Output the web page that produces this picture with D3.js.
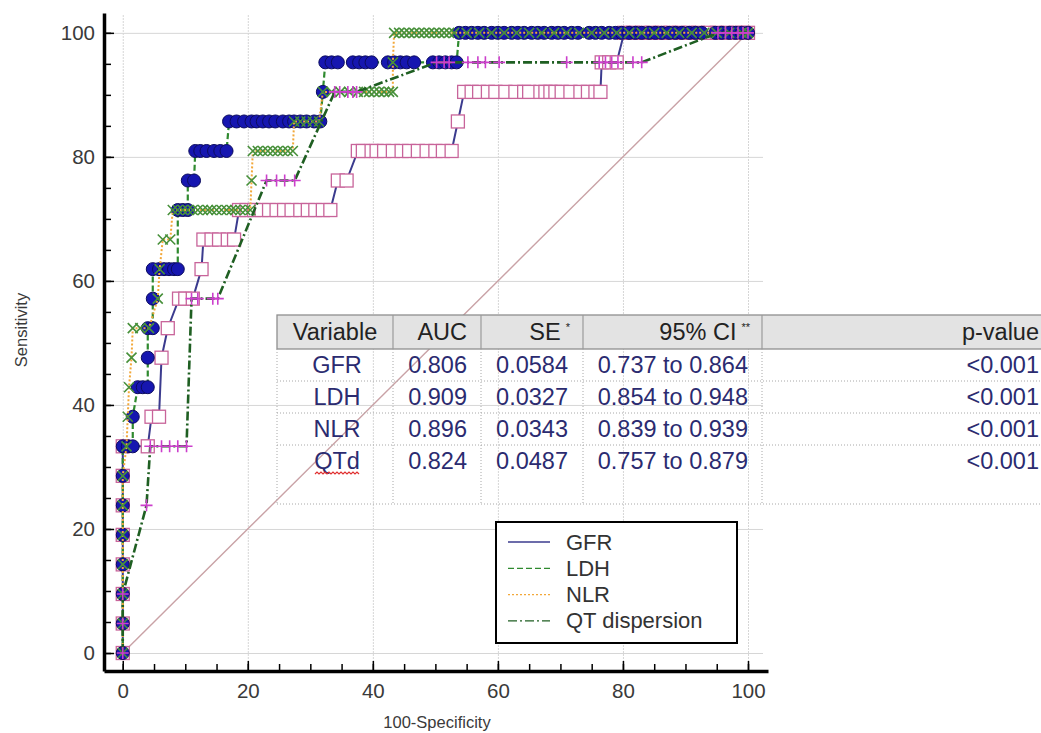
<!DOCTYPE html>
<html>
<head>
<meta charset="utf-8">
<script src="https://d3js.org/d3.v7.min.js"></script>
<style>
  body { margin: 0; background: #fff; overflow: hidden; }
  svg { display: block; font-family: Arial, "Liberation Sans", sans-serif; }
</style>
</head>
<body>
<div id="roc"></div>
<script>
// ROC points: each row is [sensitivity, 100-specificity values at that sensitivity...]
var gfrRows = [
  [0, 0], [4.76, 0], [9.52, 0], [14.29, 0], [19.05, 0], [23.81, 0], [28.57, 0],
  [33.33, 0, 4.0],
  [38.10, 4.6, 5.8],
  [47.62, 6.2],
  [52.38, 7.2],
  [57.14, 9.0, 10.0, 11.2],
  [61.90, 12.6],
  [66.67, 12.9, 14.2, 15.4, 16.8, 17.8],
  [71.43, 18.6, 19.8, 21.0, 22.2, 23.4, 24.6, 25.8, 27.0, 28.4, 29.6, 30.8, 32.0, 33.2],
  [76.19, 34.4, 35.8],
  [80.95, 37.6, 38.4, 39.8, 40.6, 41.8, 43.2, 44.6, 45.8, 47.2, 48.6, 50.0, 51.2, 52.6],
  [85.71, 53.6],
  [90.48, 54.6, 55.8, 57.0, 58.4, 59.6, 61.2, 62.8, 64.2, 65.0, 66.8, 67.6, 68.4, 69.2, 70.2, 71.6, 73.2, 74.4, 75.6, 76.4],
  [95.24, 76.6, 77.8, 79.0],
  [100, 80.2, 81.6, 83.0, 84.6, 86.0, 87.6, 89.0, 90.6, 92.0, 93.6, 95.0, 96.6, 98.0, 99.2, 100]
];

var ldhRows = [
  [0, 0], [4.76, 0], [9.52, 0], [14.29, 0], [19.05, 0], [23.81, 0], [28.57, 0],
  [33.33, 0, 0.8, 1.6],
  [38.10, 1.6],
  [42.86, 2.4, 3.2, 4.0],
  [47.62, 4.0],
  [52.38, 4.0, 4.8],
  [57.14, 4.8],
  [61.90, 4.8, 5.8, 6.6, 7.4, 8.2, 8.8],
  [71.43, 8.8, 9.6, 10.4],
  [76.19, 10.4, 11.4],
  [80.95, 11.6, 12.4, 13.4, 14.6, 15.6, 16.6],
  [85.71, 17.0, 18.2, 19.4, 20.6, 21.4, 22.4, 23.4, 24.4, 25.6, 26.6, 27.4, 28.4, 29.4, 30.6, 31.6],
  [90.48, 32.0],
  [95.24, 32.4, 33.4, 34.4, 36.8, 37.8, 38.8, 39.8, 42.4, 43.4, 44.4, 45.4, 46.6, 49.6, 50.6, 51.6, 52.6, 53.4],
  [100, 53.8, 54.8, 55.8, 56.8, 57.8, 59.0, 60.0, 61.0, 62.2, 63.2, 64.2, 65.4, 66.4, 67.4, 68.6, 69.6, 70.6,
    71.8, 72.8, 74.6, 75.6, 76.6, 77.8, 78.8, 79.8, 81.0, 82.0, 83.0, 84.2, 85.2, 86.2, 87.4, 88.4, 89.4,
    90.6, 91.6, 92.6, 94.8, 95.8, 97.0, 98.0, 99.0, 100]
];

var nlrRows = [
  [0, 0], [4.76, 0], [9.52, 0], [14.29, 0], [19.05, 0], [23.81, 0], [28.57, 0],
  [33.33, 0.6],
  [38.10, 0.8],
  [42.86, 1.0],
  [47.62, 1.4],
  [52.38, 1.6, 2.8, 4.2],
  [57.14, 5.6],
  [61.90, 5.9],
  [66.67, 6.4, 7.6],
  [71.43, 8.0, 8.8, 9.6, 10.4, 11.2, 12.0, 12.8, 13.6, 14.2, 15.0, 15.8, 16.6, 17.4, 18.0, 18.8, 19.6, 20.4],
  [76.19, 20.6],
  [80.95, 20.8, 21.6, 22.4, 23.2, 24.0, 24.8, 25.6, 26.4, 27.2],
  [85.71, 27.4, 28.4, 29.4, 30.4, 31.4],
  [90.48, 32.0, 33.4, 34.8, 36.2, 37.6, 38.6, 39.4, 40.2, 41.0, 41.8, 42.6, 43.2],
  [95.24, 43.2],
  [100, 43.4, 44.2, 45.0, 45.8, 46.6, 47.4, 48.2, 49.0, 49.8, 50.6, 51.4, 52.2, 53.0, 55.0, 57.0, 59.0,
    61.0, 63.0, 65.0, 67.0, 69.0, 71.0, 73.0, 75.0, 77.0, 79.0, 81.0, 83.0, 85.0, 87.0, 89.0, 91.0,
    93.0, 95.0, 97.0, 99.0, 100]
];

var qtRows = [
  [0, 0], [4.76, 0], [9.52, 0],
  [23.81, 3.8],
  [33.33, 4.4, 6.2, 7.5, 8.8, 10.2],
  [57.14, 11.0, 12.0, 14.4, 15.2],
  [76.19, 23.0, 24.6, 25.9, 27.5],
  [90.48, 33.9, 34.7, 36.0, 36.8, 37.4],
  [95.24, 50.2, 51.4, 52.2, 55.2, 56.8, 58.0, 60.2, 71.0, 76.2, 77.2, 78.2, 79.2, 81.6, 83.0],
  [100, 95.2, 96.4, 97.4, 98.4, 99.2, 100]
];

var seriesNames = ["GFR", "LDH", "NLR", "QT dispersion"];

// result table
var tableHeader = ["Variable", "AUC", "SE", "95% CI", "p-value"];
var tableVariable = ["GFR", "LDH", "NLR", "QTd"];
var tableAUC = ["0.806", "0.909", "0.896", "0.824"];
var tableSE = ["0.0584", "0.0327", "0.0343", "0.0487"];
var tableCI = ["0.737 to 0.864", "0.854 to 0.948", "0.839 to 0.939", "0.757 to 0.879"];
var tableP = ["<0.001", "<0.001", "<0.001", "<0.001"];

var majorTicks = [0, 20, 40, 60, 80, 100];
var minorTicks = [0, 5, 10, 15, 20, 25, 30, 35, 40, 45, 50, 55, 60, 65, 70, 75, 80, 85, 90, 95, 100];

function toPoints(rows) {
  var pts = [];
  rows.forEach(function(r) {
    for (var i = 1; i < r.length; i++) pts.push([r[i], r[0]]);
  });
  return pts;
}

function init() {
  var w = 1041;
  var h = 733;

  var svg = d3.select("#roc")
    .append("svg")
    .attr("width", w)
    .attr("height", h);

  // scales (axis frame runs a little past 0 and 100)
  var x = d3.scaleLinear().domain([-3, 103.2]).range([104, 768]);
  var y = d3.scaleLinear().domain([-2.9, 103.2]).range([671, 13]);

  // grid
  svg.append("g")
    .attr("transform", "translate(0,671)")
    .call(d3.axisBottom(x).tickValues(majorTicks).tickSize(-656).tickFormat(""))
    .call(function(g) { g.select(".domain").remove(); })
    .selectAll("line")
    .attr("stroke", "#d6d6d6")
    .attr("stroke-dasharray", "2,1");

  svg.append("g")
    .attr("transform", "translate(104,0)")
    .call(d3.axisLeft(y).tickValues(majorTicks).tickSize(-659).tickFormat(""))
    .call(function(g) { g.select(".domain").remove(); })
    .selectAll("line")
    .attr("stroke", "#d6d6d6");

  // reference diagonal
  svg.append("line")
    .attr("x1", x(0)).attr("y1", y(0))
    .attr("x2", x(100)).attr("y2", y(100))
    .attr("stroke", "#c9a2a6")
    .attr("stroke-width", 1.4);

  var line = d3.line()
    .x(function(d) { return x(d[0]); })
    .y(function(d) { return y(d[1]); });

  var series = [
    { rows: gfrRows, color: "#3b3b8e", dash: null, width: 2, marker: "square" },
    { rows: ldhRows, color: "#2f8a2f", dash: "6,3", width: 2.2, marker: "circle" },
    { rows: nlrRows, color: "#f2a83a", dash: "2,2", width: 2, marker: "x" },
    { rows: qtRows, color: "#1f5f22", dash: "9,3,2,3", width: 2.6, marker: "plus" }
  ];

  series.forEach(function(s) {
    var pts = toPoints(s.rows);
    var g = svg.append("g");

    g.append("path")
      .datum(pts)
      .attr("fill", "none")
      .attr("stroke", s.color)
      .attr("stroke-width", s.width)
      .attr("stroke-dasharray", s.dash)
      .attr("d", line);

    var m = g.selectAll(".m")
      .data(pts)
      .enter();

    if (s.marker == "square") {
      m.append("rect")
        .attr("x", function(d) { return x(d[0]) - 6.5; })
        .attr("y", function(d) { return y(d[1]) - 6.5; })
        .attr("width", 13)
        .attr("height", 13)
        .attr("fill", "#fff")
        .attr("stroke", "#c8649a")
        .attr("stroke-width", 1.3);
    } else if (s.marker == "circle") {
      m.append("circle")
        .attr("cx", function(d) { return x(d[0]); })
        .attr("cy", function(d) { return y(d[1]); })
        .attr("r", 6.5)
        .attr("fill", "#1616b0")
        .attr("stroke", "#0c0c5e")
        .attr("stroke-width", 1);
    } else if (s.marker == "x") {
      m.append("path")
        .attr("transform", function(d) { return "translate(" + x(d[0]) + "," + y(d[1]) + ")"; })
        .attr("d", "M-5,-5L5,5M-5,5L5,-5")
        .attr("stroke", "#47903a")
        .attr("stroke-width", 1.6);
    } else {
      m.append("path")
        .attr("transform", function(d) { return "translate(" + x(d[0]) + "," + y(d[1]) + ")"; })
        .attr("d", "M-6,0L6,0M0,-6L0,6")
        .attr("stroke", "#cc3fcc")
        .attr("stroke-width", 1.6);
    }
  });

  // axes
  var yAxis = svg.append("g")
    .attr("transform", "translate(104,0)")
    .call(d3.axisLeft(y).tickValues(majorTicks).tickSize(-10).tickSizeOuter(0).tickPadding(9));
  yAxis.append("g")
    .call(d3.axisLeft(y).tickValues(minorTicks).tickSize(-7).tickSizeOuter(0).tickFormat(""))
    .select(".domain").remove();

  var xAxis = svg.append("g")
    .attr("transform", "translate(0,671)")
    .call(d3.axisBottom(x).tickValues(majorTicks).tickSize(-10).tickSizeOuter(0).tickPadding(12));
  xAxis.append("g")
    .call(d3.axisBottom(x).tickValues(minorTicks).tickSize(-7).tickSizeOuter(0).tickFormat(""))
    .select(".domain").remove();

  [yAxis, xAxis].forEach(function(a) {
    a.select(".domain").attr("stroke", "#000").attr("stroke-width", 3.5);
    a.selectAll("line").attr("stroke", "#000").attr("stroke-width", 1.5);
    a.selectAll("text")
      .attr("font-size", "20.5px")
      .attr("font-family", "Arial, 'Liberation Sans', sans-serif")
      .attr("fill", "#3a3a3a");
  });

  svg.append("text")
    .attr("transform", "translate(27,330) rotate(-90)")
    .attr("text-anchor", "middle")
    .attr("font-size", "16.5px")
    .attr("fill", "#3a3a3a")
    .text("Sensitivity");

  svg.append("text")
    .attr("x", 437)
    .attr("y", 728)
    .attr("text-anchor", "middle")
    .attr("font-size", "16.5px")
    .attr("fill", "#3a3a3a")
    .text("100-Specificity");

  // table
  var colX = [277, 393, 481, 583, 762, 1060];
  var top = 315;
  var headH = 34;
  var rowH = 32;
  var bottom = 504;
  var table = svg.append("g").attr("font-size", "23.5px");

  table.append("rect")
    .attr("x", colX[0]).attr("y", top)
    .attr("width", colX[5] - colX[0]).attr("height", headH)
    .attr("fill", "#e3e3e3")
    .attr("stroke", "#8f8f8f")
    .attr("stroke-width", 1.3);

  for (var c = 1; c < 5; c++) {
    table.append("line")
      .attr("x1", colX[c]).attr("x2", colX[c])
      .attr("y1", top).attr("y2", top + headH)
      .attr("stroke", "#9a9a9a").attr("stroke-width", 1.2);
    table.append("line")
      .attr("x1", colX[c]).attr("x2", colX[c])
      .attr("y1", top + headH).attr("y2", bottom)
      .attr("stroke", "#a8a8a8").attr("stroke-dasharray", "1,2");
  }
  table.append("line")
    .attr("x1", colX[0]).attr("x2", colX[0])
    .attr("y1", top + headH).attr("y2", bottom)
    .attr("stroke", "#a8a8a8").attr("stroke-dasharray", "1,2");

  var rowLines = [top + headH + rowH, top + headH + 2 * rowH, top + headH + 3 * rowH, bottom];
  rowLines.forEach(function(ry) {
    table.append("line")
      .attr("x1", colX[0]).attr("x2", colX[5])
      .attr("y1", ry).attr("y2", ry)
      .attr("stroke", "#a8a8a8").attr("stroke-dasharray", "1,2");
  });

  var headAnchor = [["middle", 335], ["end", 467], ["end", 570], ["end", 750], ["end", 1039]];
  var bodyAnchor = [["middle", 337], ["end", 467], ["end", 568], ["end", 748], ["end", 1039]];
  var headY = top + headH / 2 + 8;

  tableHeader.forEach(function(t, i) {
    var txt = table.append("text")
      .attr("x", headAnchor[i][1])
      .attr("y", headY)
      .attr("text-anchor", headAnchor[i][0])
      .attr("fill", "#222")
      .text(t);
    if (i == 2 || i == 3) {
      txt.append("tspan")
        .attr("dx", 5)
        .attr("dy", -9)
        .attr("font-size", "11px")
        .text(i == 2 ? "*" : "**");
    }
  });

  var columns = [tableVariable, tableAUC, tableSE, tableCI, tableP];
  columns.forEach(function(col, i) {
    col.forEach(function(v, r) {
      table.append("text")
        .attr("x", bodyAnchor[i][1])
        .attr("y", top + headH + r * rowH + rowH / 2 + 8)
        .attr("text-anchor", bodyAnchor[i][0])
        .attr("fill", "#2b2b70")
        .text(v);
    });
  });

  // spell-check squiggle under QTd
  var sq = "M315,474";
  for (var k = 0; k < 11; k++) sq += "l2,-2l2,2";
  table.append("path")
    .attr("d", sq)
    .attr("fill", "none")
    .attr("stroke", "#e03030")
    .attr("stroke-width", 1.2);

  // legend
  var legend = svg.append("g");
  legend.append("rect")
    .attr("x", 496).attr("y", 522)
    .attr("width", 241).attr("height", 121)
    .attr("fill", "#fff")
    .attr("stroke", "#000")
    .attr("stroke-width", 2);

  seriesNames.forEach(function(name, i) {
    var ly = 542 + i * 26.3;
    legend.append("line")
      .attr("x1", 508).attr("x2", 550)
      .attr("y1", ly).attr("y2", ly)
      .attr("stroke", series[i].color)
      .attr("stroke-width", 1.3)
      .attr("stroke-dasharray", series[i].dash);
    legend.append("text")
      .attr("x", 566)
      .attr("y", ly + 7.5)
      .attr("font-size", "22px")
      .attr("fill", "#333")
      .text(name);
  });
}

window.onload = init;
</script>
</body>
</html>
